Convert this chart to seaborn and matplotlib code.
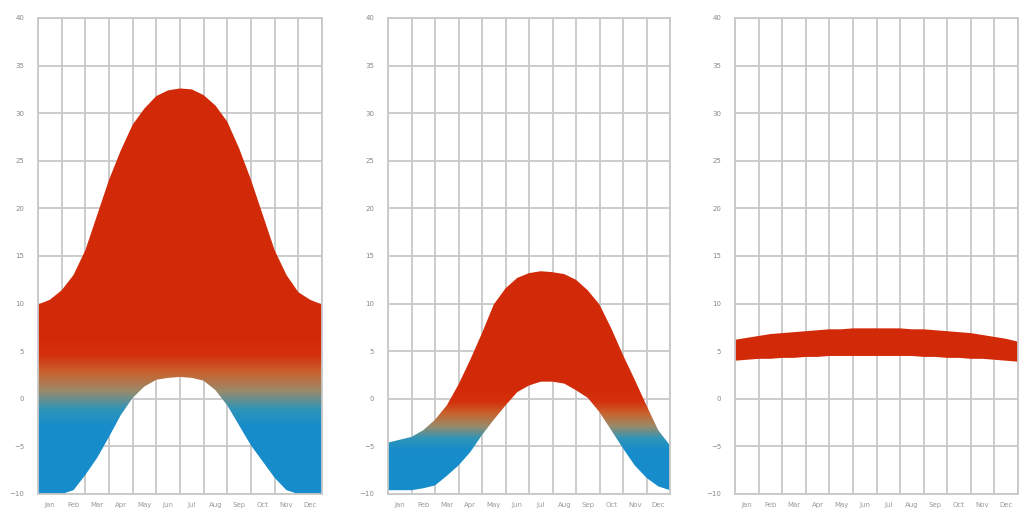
import numpy as np
import pandas as pd
import matplotlib
matplotlib.use("Agg")
import matplotlib.pyplot as plt
from matplotlib.colors import LinearSegmentedColormap, Normalize
import seaborn as sns

# ---- data ----
month_pos = [i * 0.5 for i in range(25)]  # 0 .. 12 months
month_labels = ["Jan", "Feb", "Mar", "Apr", "May", "Jun",
                "Jul", "Aug", "Sep", "Oct", "Nov", "Dec"]
y_ticks = [-10, -5, 0, 5, 10, 15, 20, 25, 30, 35, 40]

p1_max = [9.9, 10.4, 11.4, 13.0, 15.6, 19.3, 23.0, 26.1, 28.8, 30.5, 31.8, 32.4, 32.6,
          32.5, 31.9, 30.8, 29.1, 26.3, 23.0, 19.3, 15.6, 13.0, 11.2, 10.4, 9.9]
p1_min = [-10.0, -10.0, -10.0, -9.6, -8.0, -6.2, -4.0, -1.7, 0.1, 1.3, 2.0, 2.2, 2.3,
          2.2, 1.9, 0.9, -0.7, -2.8, -4.9, -6.6, -8.3, -9.6, -10.0, -10.0, -10.0]

p2_max = [-4.6, -4.3, -4.0, -3.3, -2.2, -0.7, 1.5, 4.1, 6.9, 9.9, 11.6, 12.7, 13.2,
          13.4, 13.3, 13.1, 12.5, 11.4, 9.9, 7.4, 4.6, 2.0, -0.7, -3.3, -4.9]
p2_min = [-9.6, -9.6, -9.6, -9.4, -9.1, -8.1, -7.0, -5.6, -3.8, -2.2, -0.7, 0.7, 1.4,
          1.8, 1.8, 1.6, 0.9, 0.1, -1.4, -3.3, -5.2, -7.0, -8.3, -9.2, -9.6]

p3_max = [6.2, 6.4, 6.6, 6.8, 6.9, 7.0, 7.1, 7.2, 7.3, 7.3, 7.4, 7.4, 7.4,
          7.4, 7.4, 7.3, 7.3, 7.2, 7.1, 7.0, 6.9, 6.7, 6.5, 6.3, 6.0]
p3_min = [4.0, 4.1, 4.2, 4.2, 4.3, 4.3, 4.4, 4.4, 4.5, 4.5, 4.5, 4.5, 4.5,
          4.5, 4.5, 4.5, 4.4, 4.4, 4.3, 4.3, 4.2, 4.2, 4.1, 4.0, 3.9]

panels = [(p1_min, p1_max), (p2_min, p2_max), (p3_min, p3_max)]

# ---- style ----
sns.set_theme(style="whitegrid")
plt.rcParams['font.family'] = ['DejaVu Sans']

cmap = LinearSegmentedColormap.from_list(
    "temp", ["#168ccb", "#2f95b8", "#9a8a6a", "#c8642f", "#d5300d", "#d22a08"])
# colour ramp limits per panel (blue end, red start)
ramp = [(-3.0, 6.5), (-5.5, 1.0), (-30.0, -20.0)]

fig = plt.figure(figsize=(10.24, 5.32), dpi=100)
lefts = [38 / 1024, 388 / 1024, 735 / 1024]
widths = [284 / 1024, 282 / 1024, 283 / 1024]
bottom = 1 - 494 / 532
height = (494 - 18) / 532

for i, (lo, hi) in enumerate(panels):
    ax = fig.add_axes([lefts[i], bottom, widths[i], height])
    df = pd.DataFrame({"month": month_pos, "low": lo, "high": hi})
    sns.lineplot(data=df, x="month", y="high", ax=ax, linewidth=0, color="#d22a08")
    sns.lineplot(data=df, x="month", y="low", ax=ax, linewidth=0, color="#168ccb")
    poly = ax.fill_between(df["month"], df["low"], df["high"],
                           facecolor="none", edgecolor="none")
    yy = np.linspace(-10, 40, 600).reshape(-1, 1)
    grad = np.repeat(yy, 2, axis=1)
    im = ax.imshow(grad, extent=[0, 12, -10, 40], origin="lower", aspect="auto",
                   cmap=cmap, norm=Normalize(vmin=ramp[i][0], vmax=ramp[i][1]),
                   zorder=2, interpolation="bilinear")
    im.set_clip_path(poly.get_paths()[0], transform=ax.transData)

    ax.set_xlim(0, 12)
    ax.set_ylim(-10, 40)
    ax.set_xticks(range(13))
    ax.set_xticks([m + 0.5 for m in range(12)], minor=True)
    ax.set_xticklabels([])
    ax.set_xticklabels(month_labels, minor=True)
    ax.tick_params(axis="x", which="minor", length=0, labelsize=5,
                   labelcolor="#9a9a9a", pad=6)
    ax.tick_params(axis="x", which="major", length=0)
    ax.set_yticks(y_ticks)
    ax.tick_params(axis="y", length=0, labelsize=5, labelcolor="#8a8a8a", pad=10)
    ax.grid(True, which="major", color="#c8c8c8", linewidth=1.3)
    ax.grid(False, which="minor")
    ax.set_xlabel("")
    ax.set_ylabel("")
    for s in ax.spines.values():
        s.set_color("#c8c8c8")
        s.set_linewidth(1.3)

fig.savefig("out.png", dpi=100)
